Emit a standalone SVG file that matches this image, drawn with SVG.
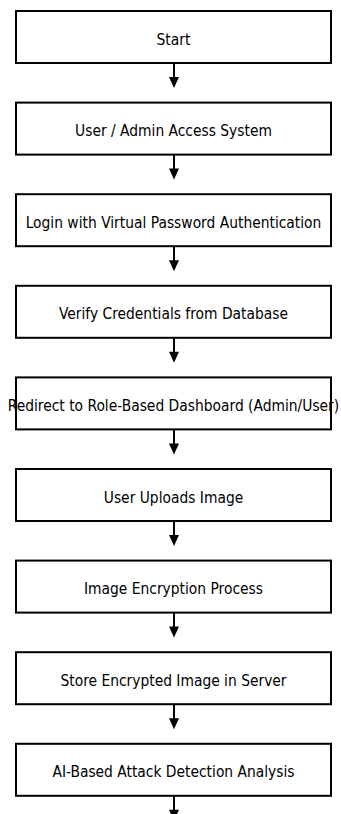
<svg xmlns="http://www.w3.org/2000/svg" width="341" height="814" viewBox="0 0 341 814">
  <style>
    .box { fill: #ffffff; stroke: #000000; stroke-width: 2; }
    .label { font-family: "DejaVu Sans Condensed", "DejaVu Sans", sans-serif; font-stretch: condensed; font-size: 15.4px; fill: #000000; text-anchor: middle; }
    .edge { stroke: #000000; stroke-width: 2; fill: none; }
    .head { fill: #000000; }
  </style>
  <rect width="341" height="814" fill="#ffffff"/>

  <!-- connectors: vertical line plus filled arrowhead below each box -->
  <g id="connectors">
    <line class="edge" x1="174" y1="63" x2="174" y2="78"/>
    <polygon class="head" points="169,77 179,77 174,88"/>
    <line class="edge" x1="174" y1="154.6" x2="174" y2="169.6"/>
    <polygon class="head" points="169,168.6 179,168.6 174,179.6"/>
    <line class="edge" x1="174" y1="246.2" x2="174" y2="261.2"/>
    <polygon class="head" points="169,260.2 179,260.2 174,271.2"/>
    <line class="edge" x1="174" y1="337.8" x2="174" y2="352.8"/>
    <polygon class="head" points="169,351.8 179,351.8 174,362.8"/>
    <line class="edge" x1="174" y1="429.4" x2="174" y2="444.4"/>
    <polygon class="head" points="169,443.4 179,443.4 174,454.4"/>
    <line class="edge" x1="174" y1="521" x2="174" y2="536"/>
    <polygon class="head" points="169,535 179,535 174,546"/>
    <line class="edge" x1="174" y1="612.6" x2="174" y2="627.6"/>
    <polygon class="head" points="169,626.6 179,626.6 174,637.6"/>
    <line class="edge" x1="174" y1="704.2" x2="174" y2="719.2"/>
    <polygon class="head" points="169,718.2 179,718.2 174,729.2"/>
    <line class="edge" x1="174" y1="795.8" x2="174" y2="810.8"/>
    <polygon class="head" points="169,809.8 179,809.8 174,820.8"/>
  </g>

  <g id="start">
    <rect class="box" x="16" y="11" width="315" height="52"/>
    <text class="label" x="173.5" y="45.2">Start</text>
  </g>
  <g id="access">
    <rect class="box" x="16" y="102.6" width="315" height="52"/>
    <text class="label" x="173.5" y="136.4">User / Admin Access System</text>
  </g>
  <g id="login">
    <rect class="box" x="16" y="194.2" width="315" height="52"/>
    <text class="label" x="173.5" y="227.8">Login with Virtual Password Authentication</text>
  </g>
  <g id="verify">
    <rect class="box" x="16" y="285.8" width="315" height="52"/>
    <text class="label" x="173.5" y="319.4">Verify Credentials from Database</text>
  </g>
  <g id="redirect">
    <rect class="box" x="16" y="377.4" width="315" height="52"/>
    <text class="label" x="173.5" y="411">Redirect to Role-Based Dashboard (Admin/User)</text>
  </g>
  <g id="upload">
    <rect class="box" x="16" y="469" width="315" height="52"/>
    <text class="label" x="173.5" y="502.6">User Uploads Image</text>
  </g>
  <g id="encrypt">
    <rect class="box" x="16" y="560.6" width="315" height="52"/>
    <text class="label" x="173.5" y="594.2">Image Encryption Process</text>
  </g>
  <g id="store">
    <rect class="box" x="16" y="652.2" width="315" height="52"/>
    <text class="label" x="173.5" y="685.8">Store Encrypted Image in Server</text>
  </g>
  <g id="detect">
    <rect class="box" x="16" y="743.8" width="315" height="52"/>
    <text class="label" x="173.5" y="777.4">AI-Based Attack Detection Analysis</text>
  </g>
</svg>
